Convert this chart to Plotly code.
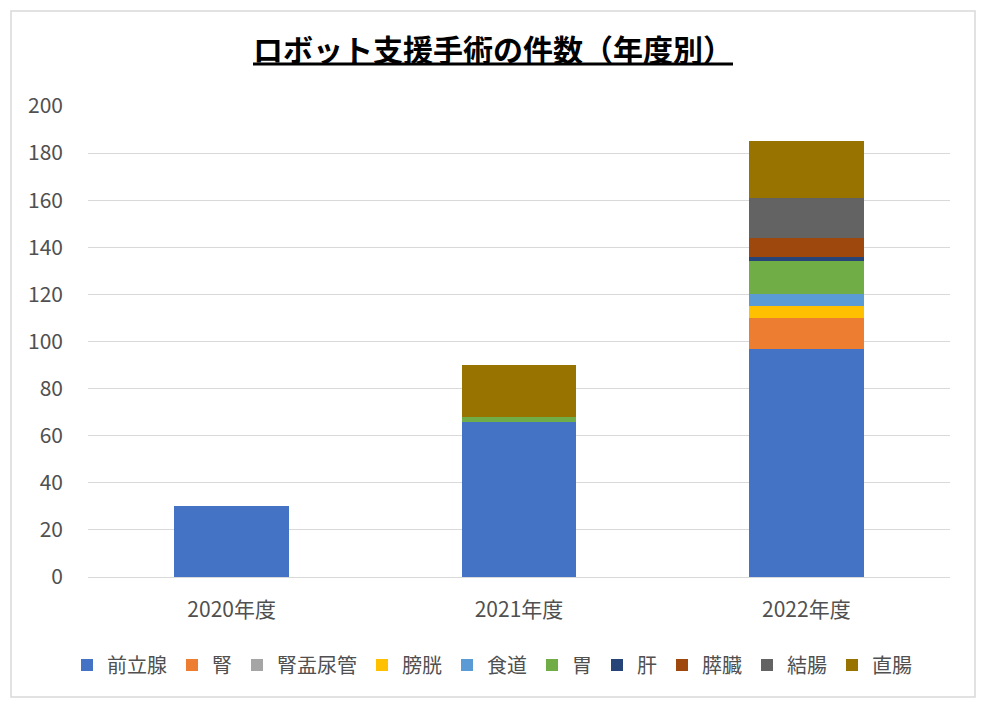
import plotly.graph_objects as go

years = ["2020年度", "2021年度", "2022年度"]
organs = ["前立腺", "腎", "腎盂尿管", "膀胱", "食道", "胃", "肝", "膵臓", "結腸", "直腸"]
colors = ["#4472C4", "#ED7D31", "#A5A5A5", "#FFC000", "#5B9BD5", "#70AD47", "#264478", "#9E480E", "#636363", "#997300"]

prostate = [30, 66, 97]
kidney = [0, 0, 13]
ureter = [0, 0, 0]
bladder = [0, 0, 5]
esophagus = [0, 0, 5]
stomach = [0, 2, 14]
liver = [0, 0, 2]
pancreas = [0, 0, 8]
colon = [0, 0, 17]
rectum = [0, 22, 24]
series = [prostate, kidney, ureter, bladder, esophagus, stomach, liver, pancreas, colon, rectum]

font_family = "Noto Sans CJK JP, Noto Sans, sans-serif"

fig = go.Figure()
for name, vals, col in zip(organs, series, colors):
    fig.add_trace(go.Bar(x=years, y=vals, name=name, marker=dict(color=col, line=dict(width=0))))

L, R, T, B = 88, 34, 106, 130
W, H = 984, 707
pw, ph = W - L - R, H - T - B

def px_x(px):
    return (px - L) / pw

def px_y(py):
    return (H - B - py) / ph

fig.update_layout(
    width=W, height=H,
    barmode="stack",
    bargap=0.6,
    paper_bgcolor="white",
    plot_bgcolor="white",
    margin=dict(l=L, r=R, t=T, b=B),
    font=dict(family=font_family, size=21, color="#505050"),
    title=dict(
        text="<b><u>ロボット支援手術の件数（年度別）</u></b>",
        x=493 / W, xref="container", xanchor="center",
        y=1 - 50 / H, yref="container", yanchor="middle",
        font=dict(family=font_family, size=30, color="#000000"),
    ),
    yaxis=dict(
        range=[0, 200], dtick=20, showgrid=True, gridcolor="#D9D9D9", gridwidth=1,
        zeroline=True, zerolinecolor="#D9D9D9", zerolinewidth=1,
        showline=False, ticks="", ticklabelstandoff=24,
        tickfont=dict(size=21, color="#505050"),
    ),
    xaxis=dict(
        showline=False, ticks="", tickfont=dict(size=21, color="#505050"),
        ticklabelstandoff=18,
    ),
    legend=dict(
        orientation="h", xref="container", x=0.5, xanchor="center",
        yref="container", y=1 - 665 / H, yanchor="middle",
        traceorder="normal", font=dict(size=20, color="#505050"),
        itemwidth=30, tracegroupgap=0,
    ),
    showlegend=True,
    shapes=[dict(
        type="rect", xref="paper", yref="paper",
        x0=px_x(11), x1=px_x(975), y0=px_y(697), y1=px_y(11),
        line=dict(color="#D9D9D9", width=1.5), fillcolor="rgba(0,0,0,0)", layer="below",
    )],
)

fig.write_html("out.html")
